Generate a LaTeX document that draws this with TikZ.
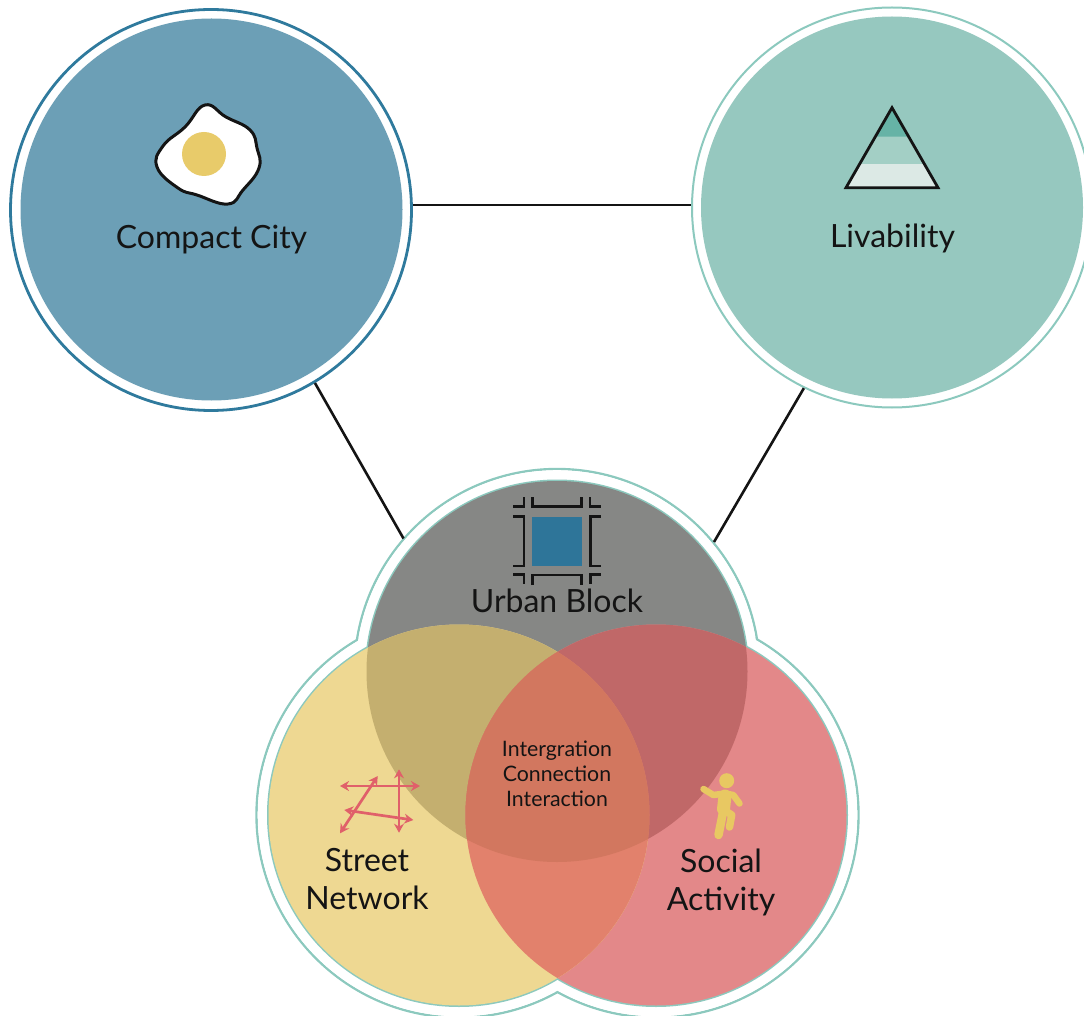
\documentclass[tikz,border=0pt]{standalone}
\usepackage{fontspec}
\setmainfont{Lato}
\usetikzlibrary{arrows.meta}
\definecolor{blueF}{HTML}{6C9FB6}
\definecolor{blueL}{HTML}{2F7A9D}
\definecolor{tealF}{HTML}{96C8BF}
\definecolor{tealL}{HTML}{8CC9BE}
\definecolor{yellowF}{HTML}{EED892}
\definecolor{redF}{HTML}{E38889}
\definecolor{greyF}{HTML}{868785}
\definecolor{yg}{HTML}{C4AF6F}
\definecolor{rg}{HTML}{C06868}
\definecolor{yr}{HTML}{E2816C}
\definecolor{yrg}{HTML}{D2775F}
\definecolor{yolk}{HTML}{E8CB6A}
\definecolor{arrowR}{HTML}{E0606A}
\definecolor{figY}{HTML}{E8C862}
\definecolor{blockB}{HTML}{2E7599}
\definecolor{bandA}{HTML}{66B3A6}
\definecolor{bandB}{HTML}{A3CFC5}
\definecolor{bandC}{HTML}{DCE9E5}
\definecolor{ink}{HTML}{141414}
\tikzset{
  x=1pt,y=-1pt,
  ring/.style={circle,inner sep=0pt,minimum size=#1},
  label big/.style={font=\fontsize{32}{32}\selectfont,text=ink,inner sep=0pt,align=center},
  label two/.style={font=\fontsize{32}{38}\selectfont,text=ink,inner sep=0pt,align=center},
  label mid/.style={font=\fontsize{21.3}{25}\selectfont,text=ink,inner sep=0pt,align=center},
  link/.style={line width=2.6pt,ink},
  blk/.style={line width=2.7pt,ink,line join=miter},
  rarrow/.style={line width=2.7pt,arrowR,{Stealth[length=9pt,width=10pt]}-{Stealth[length=9pt,width=10pt]}},
  figlimb/.style={figY,line cap=round,line join=round},
}
\begin{document}
\begin{tikzpicture}
\useasboundingbox (0,0) rectangle (1084,1016);
% big circles
\node[ring=401pt,draw=blueL,line width=2.8pt,fill=white] (compact) at (211,210) {};
\node[ring=382pt,fill=blueF] (compactin) at (211.5,209.5) {};
\node[ring=400pt,draw=tealL,line width=2pt,fill=white] (livab) at (892,207.5) {};
\node[ring=382pt,fill=tealF] (livabin) at (892,207.5) {};
\coordinate (linkY) at (0,205);
\draw[link] (compact.east |- linkY) -- (livab.west |- linkY);
% venn outline
\node[ring=405pt,draw=tealL,line width=2.4pt,fill=white] (outerT) at (557,671.5) {};
\node[ring=405pt,draw=tealL,line width=2.4pt,fill=white] (outerL) at (459,815) {};
\node[ring=405pt,draw=tealL,line width=2.4pt,fill=white] (outerR) at (656,815) {};
\fill[white] (557,671.5) circle (201.3);
\fill[white] (459,815) circle (201.3);
\fill[white] (656,815) circle (201.3);
\coordinate (jointL) at (403.5,538.5);
\coordinate (jointR) at (714,542);
\draw[link] (compact.-59) -- (jointL);
\draw[link] (livab.-116) -- (jointR);
% venn circles
\node[ring=384pt,fill=tealL] (edgeT) at (557,671.5) {};
\node[ring=384pt,fill=tealL] (edgeL) at (459,815) {};
\node[ring=384pt,fill=tealL] (edgeR) at (656,815) {};
\node[ring=381pt,fill=greyF] (urban) at (557,671.5) {};
\node[ring=381pt,fill=redF] (social) at (656,815) {};
\node[ring=381pt,fill=yellowF] (street) at (459,815) {};
\begin{scope}
  \clip (557,671.5) circle (190.5);
  \fill[yg] (459,815) circle (190.5);
  \fill[rg] (656,815) circle (190.5);
\end{scope}
\begin{scope}
  \clip (459,815) circle (190.5);
  \fill[yr] (656,815) circle (190.5);
  \clip (656,815) circle (190.5);
  \fill[yrg] (557,671.5) circle (190.5);
\end{scope}
% egg
\draw[line width=3pt,ink,fill=white] plot[smooth cycle,tension=0.75] coordinates {
 (205,105) (226,117) (250,130) (257,148) (259,168) (243,190) (228,204) (197,195)
 (178,188) (157,167) (163,146) (185,127)};
\node[ring=44pt,fill=yolk] (yolkc) at (204,154) {};
% triangle
\fill[bandC] (846,187.7) -- (938,187.7) -- (892,107.7) -- cycle;
\fill[bandB] (892,107.7) -- (924.4,164) -- (859.6,164) -- cycle;
\fill[bandA] (892,107.7) -- (908.7,136.7) -- (875.3,136.7) -- cycle;
\draw[line width=2.8pt,ink,line join=miter] (892,107.7) -- (938,187.7) -- (846,187.7) -- cycle;
% block
\fill[blockB] (532.3,516.7) rectangle (581.7,566);
\draw[blk] (532.3,497.3) -- (532.3,506.7) -- (581.7,506.7) -- (581.7,497.3);
\draw[blk] (513.3,506.7) -- (524,506.7) -- (524,497.3);
\draw[blk] (590,497.3) -- (590,506.7) -- (600.7,506.7);
\draw[blk] (513.3,516.7) -- (524,516.7) -- (524,566) -- (513.3,566);
\draw[blk] (600.7,516.7) -- (590.5,516.7) -- (590.5,566) -- (600.7,566);
\draw[blk] (513.3,574.3) -- (524,574.3) -- (524,584.3);
\draw[blk] (532.3,585) -- (532.3,575) -- (581.7,575) -- (581.7,585);
\draw[blk] (600.7,574.3) -- (590.5,574.3) -- (590.5,584.3);
% street arrows
\draw[rarrow] (340,786) -- (420,786);
\draw[rarrow] (399,769.3) -- (399,832.7);
\draw[rarrow] (377.7,776) -- (340,833.3);
\draw[rarrow] (344.3,810) -- (413.3,820);
% figure
\node[ring=15pt,fill=figY] (head) at (726.7,780.7) {};
\draw[figlimb,line width=6.5pt] (703.5,789) -- (713.3,795) -- (725,793.5) -- (733.3,795) -- (739.5,803.5);
\draw[figlimb,line width=13pt] (725,796) -- (723.5,809);
\draw[figlimb,line width=8.5pt] (723.5,810) -- (718.5,835);
\draw[figlimb,line width=7.5pt] (724,810) -- (731.7,815) -- (729.5,827);
% labels
\node[label big] (t1) at (211.5,240) {Compact City};
\node[label big] (t2) at (892.5,238) {Livability};
\node[label big] (t3) at (557,601) {Urban Block};
\node[label two] (t4) at (367,879.5) {Street\\Network};
\node[label two] (t5) at (721,882.5) {Social\\Activity};
\node[label mid] (t6) at (557,774) {Intergration\\Connection\\Interaction};
\end{tikzpicture}
\end{document}
